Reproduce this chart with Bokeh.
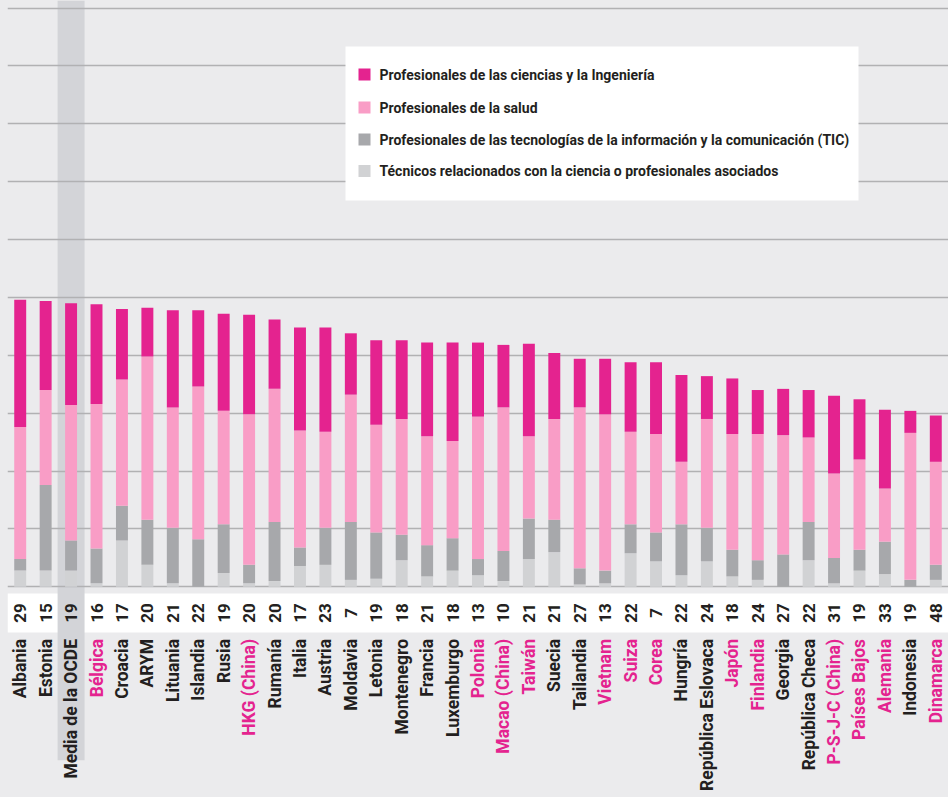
import numpy as np
from bokeh.plotting import figure
from bokeh.models import (ColumnDataSource, FactorRange, FixedTicker, BoxAnnotation,
                          Label, GlobalInlineStyleSheet)
from bokeh.core.properties import value
from bokeh.embed import file_html
from bokeh.resources import INLINE

countries = ["Albania", "Estonia", "Media de la OCDE", "Bélgica", "Croacia", "ARYM",
             "Lituania", "Islandia", "Rusia", "HKG (China)", "Rumanía", "Italia",
             "Austria", "Moldavia", "Letonia", "Montenegro", "Francia", "Luxemburgo",
             "Polonia", "Macao (China)", "Taiwán", "Suecia", "Tailandia", "Vietnam",
             "Suiza", "Corea", "Hungría", "República Eslovaca", "Japón", "Finlandia",
             "Georgia", "República Checa", "P-S-J-C (China)", "Países Bajos",
             "Alemania", "Indonesia", "Dinamarca"]

top_numbers = [29, 15, 19, 16, 17, 20, 21, 22, 19, 20, 20, 17, 23, 7, 19, 18, 21, 18,
               13, 10, 21, 21, 27, 13, 22, 7, 22, 24, 18, 24, 27, 22, 31, 19, 33, 19, 48]

pink_labels = ["Bélgica", "HKG (China)", "Polonia", "Macao (China)", "Taiwán",
               "Vietnam", "Suiza", "Corea", "Japón", "Finlandia", "P-S-J-C (China)",
               "Países Bajos", "Alemania", "Dinamarca"]

# Percent of students (stack: bottom -> top)
technicians = [1.4, 1.4, 1.4, 0.3, 4.0, 1.9, 0.3, 0.0, 1.2, 0.3, 0.5, 1.8,
               1.9, 0.6, 0.7, 2.3, 0.9, 1.4, 1.0, 0.5, 2.4, 3.0, 0.2, 0.3,
               2.9, 2.2, 1.0, 2.2, 0.9, 0.6, 0.0, 2.3, 0.3, 1.4, 1.1, 0.0, 0.6]
ict = [1.0, 7.4, 2.6, 3.0, 3.0, 3.9, 4.8, 4.1, 4.2, 1.6, 5.1, 1.6,
       3.2, 5.0, 4.0, 2.2, 2.7, 2.8, 1.4, 2.6, 3.5, 2.8, 1.4, 1.1,
       2.5, 2.5, 4.4, 2.9, 2.3, 1.7, 2.8, 3.3, 2.2, 1.8, 2.8, 0.6, 1.3]
health = [11.4, 8.2, 11.7, 12.5, 10.9, 14.1, 10.4, 13.2, 9.8, 13.0, 11.5, 10.1,
          8.3, 11.0, 9.3, 10.0, 9.4, 8.4, 12.3, 12.4, 7.1, 8.7, 13.9, 13.5,
          8.0, 8.5, 5.4, 9.4, 10.0, 10.9, 10.3, 7.3, 7.3, 7.8, 4.6, 12.7, 8.9]
science_eng = [11.0, 7.7, 8.8, 8.6, 6.1, 4.2, 8.4, 6.6, 8.4, 8.6, 6.0, 8.9,
               9.0, 5.3, 7.3, 6.8, 8.1, 8.5, 6.4, 5.4, 8.0, 5.7, 4.2, 4.8,
               6.0, 6.2, 7.5, 3.7, 4.8, 3.8, 4.0, 4.1, 6.7, 5.2, 6.8, 1.9, 4.0]

series_keys = ["technicians", "ict", "health", "science_eng"]
series_labels = ["Técnicos relacionados con la ciencia o profesionales asociados",
                 "Profesionales de las tecnologías de la información y la comunicación (TIC)",
                 "Profesionales de la salud",
                 "Profesionales de las ciencias y la Ingeniería"]
series_colors = ["#D1D2D4", "#A7A8AB", "#F99DC6", "#E4238F"]
highlight = "Media de la OCDE"

BG = "#EBEBED"
DARK = "#231F20"
PINK = "#E4238F"
W, H, LEFT = 948, 797, 7

p = figure(x_range=FactorRange(factors=countries, range_padding=0),
           y_range=(-18.2, 50.65), width=W, height=H,
           output_backend="svg", toolbar_location=None, min_border=0,
           min_border_left=LEFT,
           background_fill_color=BG, border_fill_color=BG, outline_line_color=None)
p.stylesheets = [GlobalInlineStyleSheet(css="body{background:%s;}" % BG)]

p.axis.visible = False
p.xgrid.visible = False
p.ygrid.ticker = FixedTicker(ticks=list(range(0, 51, 5)))
p.ygrid.grid_line_color = "#B1B1B3"
p.ygrid.grid_line_width = 1.5

# white strip behind the numbers
p.quad(left=[0], right=[len(countries)], bottom=[-3.95], top=[-0.58],
       fill_color="white", line_color=None, level="image")
# highlight band for the OECD average
p.vbar(x=[highlight], width=1.06, bottom=-14.98, top=51, fill_color="#D3D4D8",
       line_color=None, level="image")

src = ColumnDataSource(dict(country=countries, technicians=technicians, ict=ict,
                            health=health, science_eng=science_eng))
rs = p.vbar_stack(series_keys, x="country", width=0.47, color=series_colors,
                  line_color=None, source=src)

lab_src = ColumnDataSource(dict(
    country=countries,
    num=[str(n) for n in top_numbers],
    col=[PINK if c in pink_labels else DARK for c in countries],
))
p.text(x="country", y=-2.26, text="num", source=lab_src, angle=np.pi / 2,
       text_align="center", text_baseline="middle", text_color=DARK,
       text_font=value("Roboto"), text_font_style="bold", text_font_size="17px")
p.text(x="country", y=-4.5, text="country", source=lab_src, angle=np.pi / 2,
       text_align="right", text_baseline="middle", text_color="col",
       text_font=value("Roboto"), text_font_style="bold", text_font_size="17.5px")

# Legend box (screen units; page coords converted to frame coords)
def sx(x):
    return x - LEFT

def sy(y):
    return H - y

p.add_layout(BoxAnnotation(left=sx(345), right=sx(858), top=sy(46), bottom=sy(200),
                           left_units="screen", right_units="screen",
                           top_units="screen", bottom_units="screen",
                           fill_color="white", fill_alpha=1, line_color=None,
                           level="annotation"))
row_centers = [74, 107, 139, 170.5]
for k, i in enumerate([3, 2, 1, 0]):
    c = row_centers[k]
    p.add_layout(BoxAnnotation(left=sx(358), right=sx(370), top=sy(c - 6), bottom=sy(c + 6),
                               left_units="screen", right_units="screen",
                               top_units="screen", bottom_units="screen",
                               fill_color=series_colors[i], fill_alpha=1, line_color=None,
                               level="overlay"))
    p.add_layout(Label(x=sx(379), y=sy(c), x_units="screen", y_units="screen",
                       text=series_labels[i], text_font="Roboto", text_font_style="bold",
                       text_font_size="14px", text_color=DARK, text_baseline="middle",
                       text_align="left", level="overlay"))

open("out.html", "w").write(file_html(p, INLINE))
